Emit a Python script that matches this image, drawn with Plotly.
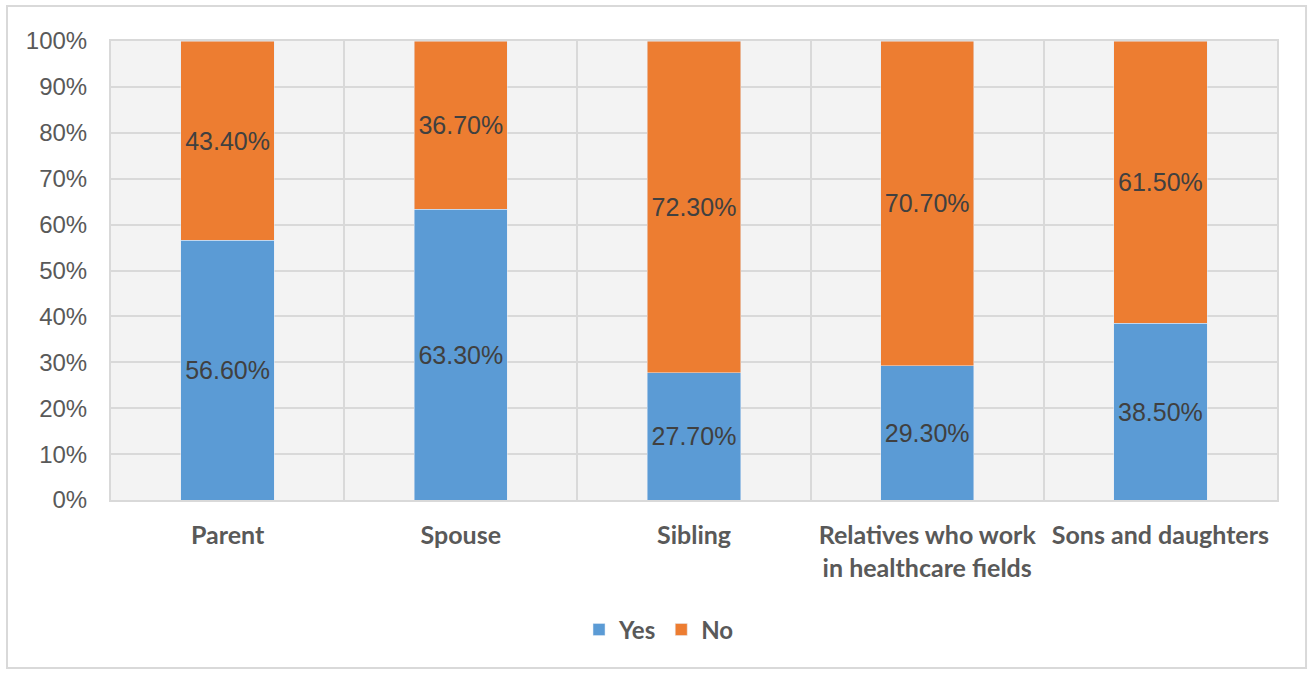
import plotly.graph_objects as go

categories = ["Parent", "Spouse", "Sibling", "Relatives who work<br>in healthcare fields", "Sons and daughters"]
yes_vals = [56.6, 63.3, 27.7, 29.3, 38.5]
no_vals = [43.4, 36.7, 72.3, 70.7, 61.5]
y_ticks = [0, 10, 20, 30, 40, 50, 60, 70, 80, 90, 100]

label_font = dict(family="Liberation Sans, Arial", size=25, color="#404040")

fig = go.Figure()
fig.add_trace(go.Bar(
    x=categories, y=yes_vals, name="Yes", marker_color="#5b9bd5",
    text=[f"{v:.2f}%" for v in yes_vals], textposition="inside",
    insidetextanchor="middle", textangle=0, textfont=label_font,
    constraintext="none", width=0.4,
))
fig.add_trace(go.Bar(
    x=categories, y=no_vals, name="No", marker_color="#ed7d31",
    text=[f"{v:.2f}%" for v in no_vals], textposition="inside",
    insidetextanchor="middle", textangle=0, textfont=label_font,
    constraintext="none", width=0.4,
))

fig.update_layout(
    barmode="stack",
    width=1313, height=673,
    margin=dict(l=111, r=36, t=41, b=173),
    paper_bgcolor="white",
    plot_bgcolor="#f3f3f3",
    legend=dict(orientation="h", x=0.47, xanchor="center", y=-0.283, yanchor="middle",
                font=dict(family="Lato, Carlito, sans-serif", size=24, color="#595959", weight="bold"),
                traceorder="normal"),
    showlegend=True,
)
fig.update_xaxes(
    tickson="boundaries", showgrid=True, gridcolor="#d9d9d9", gridwidth=2,
    showline=True, linecolor="#d9d9d9", linewidth=2, mirror=True,
    ticks="", tickfont=dict(family="Lato, Carlito, sans-serif", size=25, color="#595959", weight="bold"),
    ticklabelstandoff=12,
)
fig.update_yaxes(
    range=[0, 100], tickvals=y_ticks, ticktext=[f"{v}%" for v in y_ticks],
    showgrid=True, gridcolor="#d9d9d9", gridwidth=2, zeroline=False,
    showline=True, linecolor="#d9d9d9", linewidth=2, mirror=True,
    tickfont=dict(family="Liberation Sans, Arial", size=24, color="#595959"),
    ticklabelstandoff=17,
)
fig.add_shape(type="rect", xref="paper", yref="paper",
              x0=-0.0892, x1=1.0249, y0=-0.366, y1=1.0763,
              line=dict(color="#d9d9d9", width=2), fillcolor="rgba(0,0,0,0)", layer="below")

fig.write_html("out.html")
